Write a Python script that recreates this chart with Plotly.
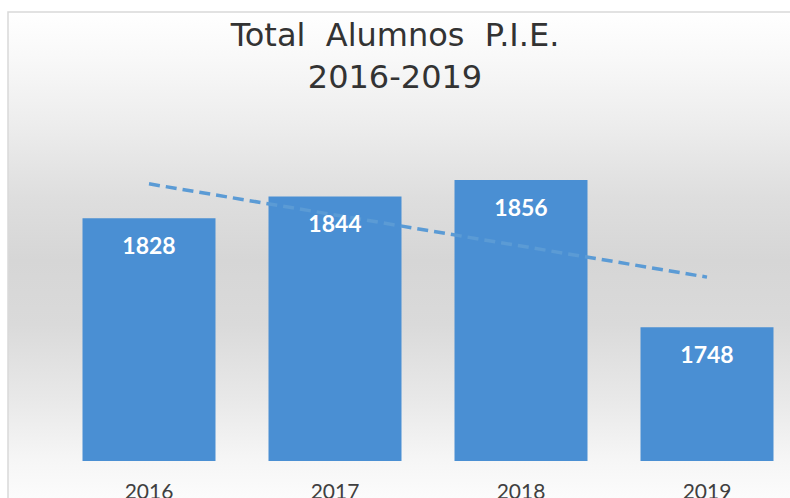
import numpy as np
import plotly.graph_objects as go

anios = ["2016", "2017", "2018", "2019"]
alumnos = [1828, 1844, 1856, 1748]
titulo = "Total\u00a0 Alumnos\u00a0 P.I.E.<br>2016-2019"

# linea de tendencia lineal (como la de Excel)
idx = np.arange(len(alumnos))
pend, corte = np.polyfit(idx, alumnos, 1)
tendencia = pend * idx + corte

# fondo degradado gris tipo Excel
fondo_svg = (
    "data:image/svg+xml;utf8,"
    "<svg xmlns='http://www.w3.org/2000/svg' width='100' height='100' preserveAspectRatio='none'>"
    "<defs><linearGradient id='g' x1='0' y1='0' x2='0' y2='1'>"
    "<stop offset='0' stop-color='%23ffffff'/>"
    "<stop offset='0.1' stop-color='%23f8f8f8'/>"
    "<stop offset='0.24' stop-color='%23ececec'/>"
    "<stop offset='0.38' stop-color='%23dedede'/>"
    "<stop offset='0.51' stop-color='%23d6d6d6'/>"
    "<stop offset='0.64' stop-color='%23dadada'/>"
    "<stop offset='0.79' stop-color='%23e8e8e8'/>"
    "<stop offset='0.92' stop-color='%23f6f6f6'/>"
    "<stop offset='1' stop-color='%23fcfcfc'/>"
    "</linearGradient></defs>"
    "<rect width='100' height='100' fill='url(%23g)'/></svg>"
)

fig = go.Figure()
fig.add_trace(go.Bar(
    x=anios, y=alumnos,
    marker=dict(color="#4a8fd3", line=dict(width=0)),
    width=0.715, hoverinfo="skip",
))
fig.add_trace(go.Scatter(
    x=anios, y=tendencia, mode="lines",
    line=dict(color="#5b9bd5", width=3.5, dash="11px,6px"),
    hoverinfo="skip",
))
fig.add_trace(go.Scatter(
    x=anios, y=[v - 22 for v in alumnos], mode="text",
    text=[str(v) for v in alumnos], textposition="middle center",
    textfont=dict(family="Lato", size=23, color="white", weight="bold"),
    hoverinfo="skip",
))

fig.add_layout_image(
    source=fondo_svg, xref="paper", yref="paper",
    x=(8 - 56) / 734, y=(461 - 12) / 341,
    sizex=(800 - 8) / 734, sizey=(500 - 12) / 341,
    xanchor="left", yanchor="top", sizing="stretch", layer="below",
)
fig.add_shape(
    type="rect", xref="paper", yref="paper",
    x0=(8 - 56) / 734, y0=(461 - 520) / 341, x1=(820 - 56) / 734, y1=(461 - 12) / 341,
    line=dict(color="#d9d9d9", width=1.5), fillcolor="rgba(0,0,0,0)", layer="below",
)

fig.update_layout(
    width=790, height=498,
    margin=dict(l=56, r=0, t=120, b=37, autoexpand=False),
    paper_bgcolor="white", plot_bgcolor="rgba(0,0,0,0)",
    showlegend=False,
    title=dict(
        text=titulo, x=0.5, xref="container", xanchor="center",
        y=(498 - 46) / 498, yanchor="top",
        font=dict(family="DejaVu Sans", size=32, color="#333333"),
    ),
)
fig.update_xaxes(
    type="category", range=[-0.5, -0.5 + 734 / 186], automargin=False,
    showgrid=False, showline=False, zeroline=False,
    ticks="outside", ticklen=12, tickcolor="rgba(0,0,0,0)",
    tickfont=dict(family="Lato", size=21, color="#404040"),
)
fig.update_yaxes(
    range=[1650, 1900], visible=False, showgrid=False, zeroline=False, automargin=False,
)

fig.write_html(
    "out.html",
    config={"displayModeBar": False},
    post_script="document.body.style.margin='0';",
)
